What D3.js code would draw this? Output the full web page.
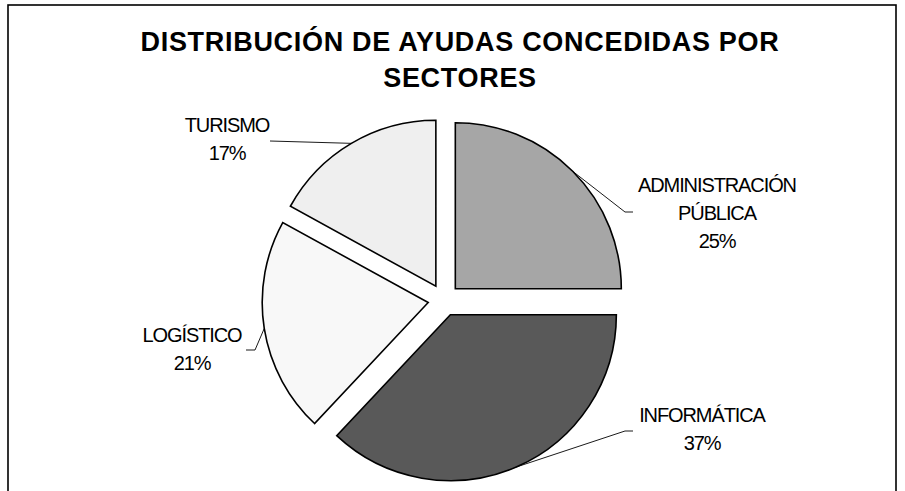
<!DOCTYPE html>
<html>
<head>
<meta charset="utf-8">
<script src="https://cdn.jsdelivr.net/npm/d3@7"></script>
<style>
  body { margin: 0; background: #fff; }
  svg { display: block; font-family: 'Liberation Sans', Arial, sans-serif; }
</style>
</head>
<body>
<div id="chart"></div>
<script>
// data
const categories = ['ADMINISTRACIÓN PÚBLICA', 'INFORMÁTICA', 'LOGÍSTICO', 'TURISMO'];
const shares = [25, 37, 21, 17];
const labelLines = [['ADMINISTRACIÓN', 'PÚBLICA'], ['INFORMÁTICA'], ['LOGÍSTICO'], ['TURISMO']];
const titleLines = ['DISTRIBUCIÓN DE AYUDAS CONCEDIDAS POR', 'SECTORES'];

// layout
const width = 905;
const height = 491;
const cx = 444;
const cy = 300;
const radius = 166;
const explode = 16;
const lineHeight = 28;

// label placement relative to the pie centre (text centre / first baseline, leader elbow and end)
const labelLayout = {
  'ADMINISTRACIÓN PÚBLICA': { x: 273, y: -108, elbow: [181, -88], end: [189, -88] },
  'INFORMÁTICA': { x: 258, y: 122, elbow: [181, 131], end: [189, 131] },
  'LOGÍSTICO': { x: -252, y: 42, elbow: [-189, 50], end: [-198, 50] },
  'TURISMO': { x: -217, y: -168, elbow: [-174, -159], end: [-174, -159] }
};

const color = d3.scaleOrdinal()
  .domain(categories)
  .range(['#a6a6a6', '#595959', '#f8f8f8', '#efefef']);

const data = categories.map((c, i) => ({ category: c, value: shares[i], lines: labelLines[i] }));
const total = d3.sum(shares);
const pct = d3.format('.0%');

const svg = d3.select('#chart')
  .append('svg')
  .attr('width', width)
  .attr('height', height);

svg.append('rect')
  .attr('x', 8)
  .attr('y', 5)
  .attr('width', 888)
  .attr('height', 500)
  .attr('fill', '#fff')
  .attr('stroke', '#000')
  .attr('stroke-width', 1.6);

svg.append('text')
  .attr('text-anchor', 'middle')
  .attr('font-weight', 'bold')
  .attr('font-size', 27)
  .attr('letter-spacing', 0.7)
  .attr('fill', '#000')
  .selectAll('tspan')
  .data(titleLines)
  .enter()
  .append('tspan')
  .attr('x', 460)
  .attr('y', (d, i) => 51 + i * 36)
  .text(d => d);

const pie = d3.pie().sort(null).value(d => d.value);
const arc = d3.arc().innerRadius(0).outerRadius(radius);
const rim = d3.arc().innerRadius(radius).outerRadius(radius);

const shift = d => {
  const a = (d.startAngle + d.endAngle) / 2;
  return [Math.sin(a) * explode, -Math.cos(a) * explode];
};

const g = svg.append('g').attr('transform', `translate(${cx}, ${cy})`);

const slices = pie(data);

g.selectAll('.slice')
  .data(slices)
  .enter()
  .append('path')
  .attr('class', 'slice')
  .attr('transform', d => `translate(${shift(d)})`)
  .attr('d', arc)
  .attr('fill', d => color(d.data.category))
  .attr('stroke', '#000')
  .attr('stroke-width', 1.6)
  .attr('stroke-linejoin', 'miter');

g.selectAll('.leader')
  .data(slices)
  .enter()
  .append('polyline')
  .attr('class', 'leader')
  .attr('fill', 'none')
  .attr('stroke', '#000')
  .attr('stroke-width', 0.9)
  .attr('points', d => {
    const s = shift(d);
    const p = rim.centroid(d);
    const l = labelLayout[d.data.category];
    return [[p[0] + s[0], p[1] + s[1]], l.elbow, l.end].join(' ');
  });

const labels = g.selectAll('.label')
  .data(slices)
  .enter()
  .append('text')
  .attr('class', 'label')
  .attr('text-anchor', 'middle')
  .attr('font-size', 20)
  .attr('letter-spacing', -1.1)
  .attr('fill', '#000');

labels.selectAll('tspan')
  .data(d => d.data.lines.concat(pct(d.data.value / total))
    .map((t, i) => ({ t, i, l: labelLayout[d.data.category] })))
  .enter()
  .append('tspan')
  .attr('x', d => d.l.x)
  .attr('y', d => d.l.y + d.i * lineHeight)
  .text(d => d.t);
</script>
</body>
</html>
